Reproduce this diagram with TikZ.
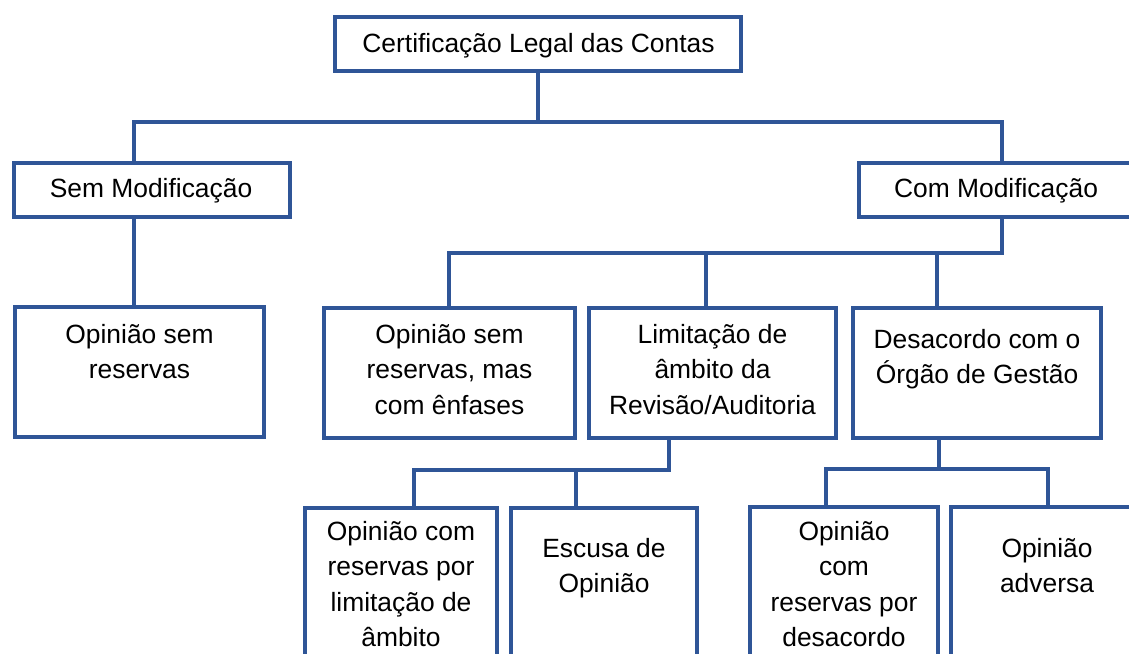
\documentclass[tikz,border=0pt]{standalone}
\usepackage{fontspec}
\setmainfont{Liberation Sans}
\definecolor{frame}{RGB}{47,85,151}
\begin{document}
\begin{tikzpicture}[x=1pt,y=-1pt,
  box/.style={draw=frame, line width=4pt, outer sep=0pt, inner sep=0pt},
  conn/.style={draw=frame, line width=3.6pt},
  txt/.style={inner sep=0pt, anchor=base, align=center, font=\fontsize{26.4}{35.5}\selectfont}]
\clip (0,0) rectangle (1129,653);
\fill[white] (0,0) rectangle (1129,653);
% boxes
\node[box, minimum width=406, minimum height=54] (top) at (538,44) {};
\node[box, minimum width=276, minimum height=54] (sem) at (152,190) {};
\node[box, minimum width=274, minimum height=54] (com) at (996,190) {};
\node[box, minimum width=249, minimum height=130] (osr) at (139.5,372) {};
\node[box, minimum width=251, minimum height=130] (enf) at (449.5,373) {};
\node[box, minimum width=247, minimum height=130] (lim) at (712.5,373) {};
\node[box, minimum width=248, minimum height=130] (des) at (977,373) {};
\node[box, minimum width=192, minimum height=200] (ocr) at (401,608) {};
\node[box, minimum width=186, minimum height=200] (esc) at (604,608) {};
\node[box, minimum width=188, minimum height=200] (ocd) at (844,607) {};
\node[box, minimum width=192, minimum height=200] (adv) at (1047,607) {};
% texts (anchor base = baseline of the last line)
\node[txt] at (538.5,52) {Certificação Legal das Contas};
\node[txt] at (151,197) {Sem Modificação};
\node[txt] at (996,197) {Com Modificação};
\node[txt] at (139.5,378.5) {Opinião sem\\reservas};
\node[txt] at (449.5,414) {Opinião sem\\reservas, mas\\com ênfases};
\node[txt] at (712.5,414) {Limitação de\\âmbito da\\Revisão/Auditoria};
\node[txt] at (977,383.5) {Desacordo com o\\Órgão de Gestão};
\node[txt] at (401,646.5) {Opinião com\\reservas por\\limitação de\\âmbito};
\node[txt] at (604,592.5) {Escusa de\\Opinião};
\node[txt] at (844,646.5) {Opinião\\com\\reservas por\\desacordo};
\node[txt] at (1047,592.5) {Opinião\\adversa};
% connectors
\coordinate (sL) at (134,122);
\coordinate (sR) at (1002,122);
\draw[conn] (top.south) -- (top.south |- sL);
\draw[conn] (sem.north -| sL) -- (sL) -- (sR) -- (com.north -| sR);
\draw[conn] (sem.south -| sL) -- (osr.north -| sL);
\coordinate (c1) at (1002,253);
\coordinate (c2) at (449,253);
\coordinate (c3) at (706,253);
\coordinate (c4) at (937,253);
\draw[conn] (com.south -| c1) -- (c1) -- (c2) -- (enf.north -| c2);
\draw[conn] (c3) -- (lim.north -| c3);
\draw[conn] (c4) -- (des.north -| c4);
\coordinate (d0) at (669,470);
\coordinate (d1) at (414,470);
\coordinate (d2) at (576,470);
\draw[conn] (lim.south -| d0) -- (d0) -- (d1) -- (ocr.north -| d1);
\draw[conn] (d2) -- (esc.north -| d2);
\coordinate (e0) at (939,469);
\coordinate (e1) at (826,469);
\coordinate (e2) at (1048,469);
\draw[conn] (des.south -| e0) -- (e0);
\draw[conn] (ocd.north -| e1) -- (e1) -- (e2) -- (adv.north -| e2);
\end{tikzpicture}
\end{document}
